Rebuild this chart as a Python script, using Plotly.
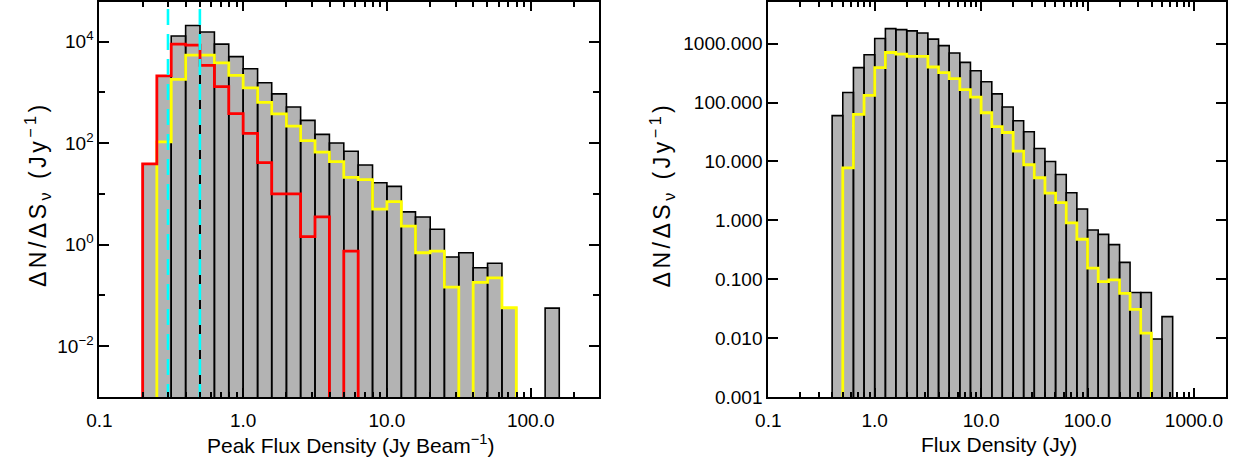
import math
import plotly.graph_objects as go

# ---------------- data ----------------
# Left panel: peak flux density histogram, 0.1-dex bins (bin edges in Jy)
left_edges = [0.200, 0.251, 0.316, 0.398, 0.501, 0.631, 0.794, 1.00, 1.26, 1.58,
              2.00, 2.51, 3.16, 3.98, 5.01, 6.31, 7.94, 10.0, 12.6, 15.8,
              20.0, 25.1, 31.6, 39.8, 50.1, 63.1, 79.4, 100.0, 126.0, 158.0]
left_all = [39, 2100, 12800, 20700, 15400, 8900, 5030, 2900, 1540, 930,
            514, 280, 148, 100, 69, 37, 16.5, 14, 4.4, 3.5,
            2.0, 0.57, 0.69, 0.35, 0.43, 0.056, 0, 0, 0.056]
# red subset: bins starting at 0.200 Jy
left_red = [39, 2100, 8900, 8500, 3400, 1290, 380, 155, 41, 10,
            10, 1.43, 3.5, 0, 0.74]
# yellow subset: bins starting at 0.251 Jy
left_yellow = [105, 1800, 5400, 5400, 3800, 2160, 1220, 630, 376, 215,
               112, 66, 43, 21, 19, 5.0, 7.0, 2.3, 0.69, 0.74,
               0.145, 0, 0.18, 0.22, 0.057]
cyan_lines = [0.3, 0.5]

# Right panel: integrated flux density histogram
right_edges = [0.398, 0.501, 0.631, 0.794, 1.00, 1.26, 1.58, 2.00, 2.51, 3.16,
               3.98, 5.01, 6.31, 7.94, 10.0, 12.6, 15.8, 20.0, 25.1, 31.6,
               39.8, 50.1, 63.1, 79.4, 100.0, 126.0, 158.0, 200.0, 251.0, 316.0,
               398.0, 501.0, 631.0]
right_all = [60, 148, 390, 645, 1220, 1790, 1720, 1640, 1510, 1190,
             920, 690, 480, 345, 225, 140, 84, 49, 32, 16.6,
             10, 6.0, 2.95, 1.56, 0.69, 0.58, 0.39, 0.195, 0.06, 0.06,
             0.0098, 0.0234]
# yellow subset: bins starting at 0.501 Jy
right_yellow = [7.8, 63, 132, 390, 705, 660, 605, 605, 400, 320,
                254, 165, 123, 67, 39, 31, 15, 8.8, 5.3, 2.9,
                2.0, 0.91, 0.48, 0.155, 0.092, 0.098, 0.058, 0.031, 0.0123]

left_xticks = [0.1, 1.0, 10.0, 100.0]
right_xticks = [0.1, 1.0, 10.0, 100.0, 1000.0]
left_yticks = [1e-2, 1e0, 1e2, 1e4]
left_yticktext = ["10<sup>−2</sup>", "10<sup>0</sup>", "10<sup>2</sup>", "10<sup>4</sup>"]
right_yticks = [0.001, 0.01, 0.1, 1, 10, 100, 1000]

# ---------------- styling ----------------
FLOOR = 1e-7
GRAY = "rgb(179,179,179)"
FONT = "Liberation Sans, Arial, sans-serif"
TICKFONT = dict(family=FONT, size=19, color="black")


def bar_polys(edges, vals):
    xs, ys = [], []
    for lo, hi, v in zip(edges[:-1], edges[1:], vals):
        if v <= 0:
            continue
        xs += [lo, lo, hi, hi, lo, None]
        ys += [FLOOR, v, v, FLOOR, FLOOR, None]
    return xs, ys


def step(edges, vals):
    xs, ys = [edges[0]], [FLOOR]
    for lo, hi, v in zip(edges[:-1], edges[1:], vals):
        y = v if v > 0 else FLOOR
        xs += [lo, hi]
        ys += [y, y]
    xs.append(edges[len(vals)])
    ys.append(FLOOR)
    return xs, ys


fig = go.Figure()

# left panel
bx, by = bar_polys(left_edges, left_all)
fig.add_trace(go.Scatter(x=bx, y=by, mode="lines", fill="toself", fillcolor=GRAY,
                         line=dict(color="black", width=1.6), xaxis="x", yaxis="y",
                         hoverinfo="skip"))
sx, sy = step(left_edges[1:], left_yellow)
fig.add_trace(go.Scatter(x=sx, y=sy, mode="lines", line=dict(color="#ffff00", width=2.8),
                         xaxis="x", yaxis="y"))
sx, sy = step(left_edges, left_red)
fig.add_trace(go.Scatter(x=sx, y=sy, mode="lines", line=dict(color="#ff0000", width=2.8),
                         xaxis="x", yaxis="y"))
for c in cyan_lines:
    fig.add_trace(go.Scatter(x=[c, c], y=[FLOOR, 1e9], mode="lines",
                             line=dict(color="#00ffff", width=2.6, dash="16px,9px"),
                             xaxis="x", yaxis="y"))

# right panel
bx, by = bar_polys(right_edges, right_all)
fig.add_trace(go.Scatter(x=bx, y=by, mode="lines", fill="toself", fillcolor=GRAY,
                         line=dict(color="black", width=1.6), xaxis="x2", yaxis="y2",
                         hoverinfo="skip"))
sx, sy = step(right_edges[1:], right_yellow)
fig.add_trace(go.Scatter(x=sx, y=sy, mode="lines", line=dict(color="#ffff00", width=2.8),
                         xaxis="x2", yaxis="y2"))

W, H = 1241, 466
ydom = [(H - 407) / H, (H - 1.7) / H]
L_DOM = [87.3, 592.5]
R_DOM = [763.3, 1225.8]

common_x = dict(type="log", showline=True, linecolor="black", linewidth=2,
                mirror="ticks", ticks="inside", ticklen=9, tickwidth=1.5,
                tickcolor="black", showgrid=False, zeroline=False,
                tickfont=TICKFONT, ticklabelstandoff=5,
                minor=dict(ticks="inside", ticklen=5, tickwidth=1.5, tickcolor="black",
                           dtick="D1", showgrid=False))
common_y = dict(type="log", showline=True, linecolor="black", linewidth=2,
                mirror="ticks", ticks="inside", ticklen=10, tickwidth=1.5,
                tickcolor="black", showgrid=False, zeroline=False,
                tickfont=TICKFONT)

fig.update_layout(
    width=W, height=H,
    margin=dict(l=0, r=0, t=0, b=0),
    paper_bgcolor="white", plot_bgcolor="white",
    showlegend=False, hovermode=False,
    xaxis=dict(common_x, domain=[L_DOM[0] / W, L_DOM[1] / W], anchor="y",
               range=[-1, math.log10(300)], tickmode="array",
               tickvals=left_xticks, ticktext=["%.1f" % v for v in left_xticks]),
    yaxis=dict(common_y, domain=ydom, anchor="x",
               range=[-3.01, 4.785], tickmode="array",
               tickvals=left_yticks, ticktext=left_yticktext,
               minor=dict(ticks="inside", ticklen=6, tickwidth=1.5, tickcolor="black",
                          dtick=1, showgrid=False)),
    xaxis2=dict(common_x, domain=[R_DOM[0] / W, R_DOM[1] / W], anchor="y2",
                range=[-1, math.log10(2000)], tickmode="array",
                tickvals=right_xticks, ticktext=["%.1f" % v for v in right_xticks]),
    yaxis2=dict(common_y, domain=ydom, anchor="x2",
                range=[-3.0, 3.71], tickmode="array",
                tickvals=right_yticks, ticktext=["%.3f" % v for v in right_yticks]),
)

TITLEFONT = dict(family=FONT, size=21, color="black")
YTITLEFONT = dict(family=FONT, size=23, color="black")
fig.add_annotation(text="Peak Flux Density (Jy Beam<sup>−1</sup>)", xref="paper", yref="paper",
                   x=342 / W, y=(H - 455) / H, showarrow=False,
                   xanchor="center", yanchor="middle", font=TITLEFONT)
fig.add_annotation(text="Flux Density (Jy)", xref="paper", yref="paper",
                   x=996 / W, y=(H - 455) / H, showarrow=False,
                   xanchor="center", yanchor="middle", font=TITLEFONT)
ytitle = ('<span style="letter-spacing:3.5px">ΔN/ΔS<sub>ν</sub> '
          '(Jy<sup>−1</sup>)</span>')
for xp in (25, 656):
    fig.add_annotation(text=ytitle, xref="paper", yref="paper",
                       x=xp / W, y=(H - 199) / H, showarrow=False, textangle=-90,
                       xanchor="center", yanchor="middle", font=YTITLEFONT)

fig.write_html("out.html", config={"displayModeBar": False},
               post_script="document.body.style.margin='0px';"
               "document.body.style.overflow='hidden';")
